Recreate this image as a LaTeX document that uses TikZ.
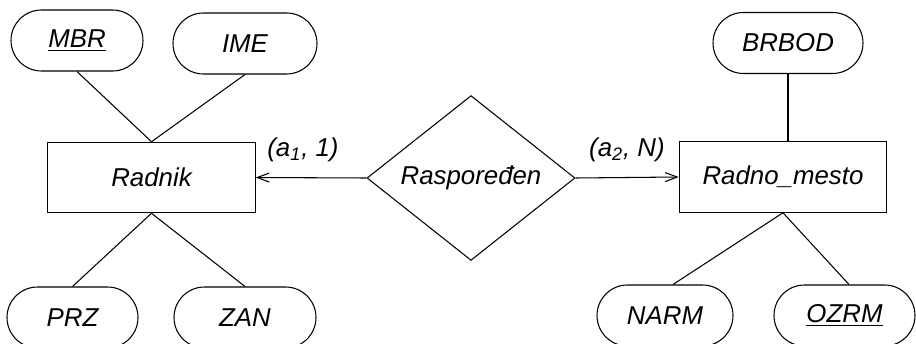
\documentclass[tikz,border=0pt]{standalone}
\usepackage{fontspec}
\setmainfont{Liberation Sans}
\usetikzlibrary{shapes.geometric,shapes.misc,arrows.meta}
\tikzset{
	attr/.style={draw, rounded rectangle, line width=0.6pt, minimum height=1.22cm, inner sep=0pt},
	entity/.style={draw, rectangle, line width=0.6pt, minimum width=4.15cm, minimum height=1.41cm, inner sep=0pt},
	rel/.style={draw, diamond, line width=0.6pt, minimum width=4.16cm, minimum height=2.58cm, inner sep=0pt},
	card/.style={inner sep=0pt},
	link/.style={line width=0.6pt},
	arr/.style={line width=0.6pt, -{Straight Barb[length=2.4mm,width=1.8mm]}}
}

\begin{document}
\begin{tikzpicture}[font=\fontsize{14.7}{17}\selectfont\itshape]
			%%%%% START %%%%%
			
			\useasboundingbox (0, 0) rectangle (18.32, 6.86);
			
			\node[entity] (radnik) at (3.03, 3.31) {Radnik};
			\node[entity] (mesto) at (15.66, 3.32) {Radno\_mesto};
			\node[rel] (rasp) at (9.42, 3.30) {Raspoređen};
			
			\node[attr, minimum width=2.64cm] (mbr) at (1.54, 6.05) {\underline{MBR}};
			\node[attr, minimum width=2.88cm] (ime) at (4.90, 5.99) {IME};
			\node[attr, minimum width=2.62cm] (prz) at (1.45, 0.51) {PRZ};
			\node[attr, minimum width=2.84cm] (zan) at (4.90, 0.51) {ZAN};
			
			\node[attr, minimum width=3.00cm] (brbod) at (15.76, 6.00) {BRBOD};
			\node[attr, minimum width=2.72cm] (narm) at (13.30, 0.55) {NARM};
			\node[attr, minimum width=2.82cm] (ozrm) at (16.89, 0.55) {\underline{OZRM}};
			
			\draw[link] (mbr.south) -- (radnik.north);
			\draw[link] (ime.south) -- (radnik.north);
			\draw[link] (prz.north) -- (radnik.south);
			\draw[link] (zan.north) -- (radnik.south);
			
			\draw[link] (brbod.south) -- (brbod.south |- mesto.north);
			\draw[link] ([xshift=0.16cm]narm.north) -- (mesto.south);
			\draw[link] ([xshift=0.09cm]ozrm.north) -- (mesto.south);
			
			\draw[arr] (rasp.west) -- (radnik.east);
			\draw[arr] (rasp.east) -- (mesto.west);
			
			\node[card] (card1) at (6.06, 3.86) {(a\textsubscript{1}, 1)};
			\node[card] (card2) at (12.54, 3.86) {(a\textsubscript{2}, N)};
			
			%%%%% END %%%%%
		\end{tikzpicture}
\end{document}
